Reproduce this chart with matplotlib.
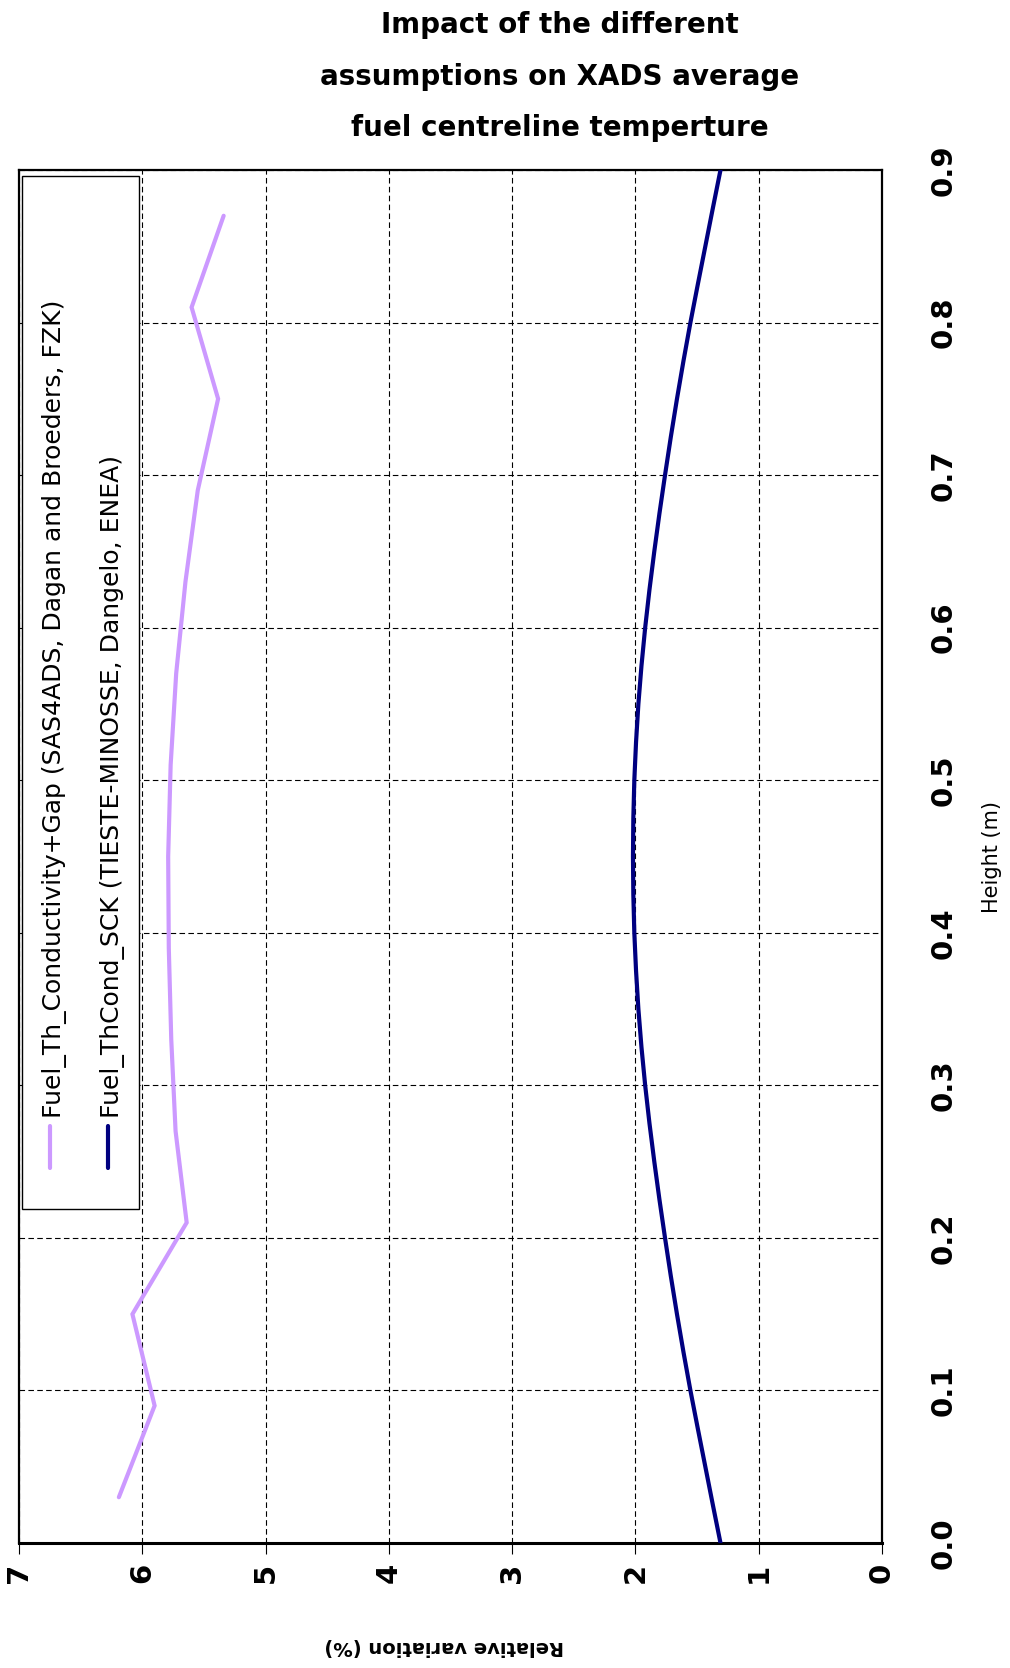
import matplotlib
matplotlib.use("Agg")
import matplotlib.pyplot as plt
from matplotlib.patches import Rectangle
from matplotlib.lines import Line2D

# ---- data ----
title_lines = ["Impact of the different",
               "assumptions on XADS average",
               "fuel centreline temperture"]
x_label = "Relative variation (%)"
y_label = "Height (m)"
x_ticks = [0, 1, 2, 3, 4, 5, 6, 7]
y_ticks = [0.0, 0.1, 0.2, 0.3, 0.4, 0.5, 0.6, 0.7, 0.8, 0.9]
y_tick_labels = ["0.0", "0.1", "0.2", "0.3", "0.4", "0.5", "0.6", "0.7", "0.8", "0.9"]

series_names = ["Fuel_Th_Conductivity+Gap (SAS4ADS, Dagan and Broeders, FZK)",
                "Fuel_ThCond_SCK (TIESTE-MINOSSE, Dangelo, ENEA)"]
series_colors = ["#CC99FF", "#000080"]

height_fzk = [0.03, 0.09, 0.15, 0.21, 0.27, 0.33, 0.39, 0.45, 0.51, 0.57,
              0.63, 0.69, 0.75, 0.81, 0.87]
var_fzk = [6.19, 5.90, 6.08, 5.64, 5.73, 5.765, 5.785, 5.79, 5.77, 5.725,
           5.65, 5.55, 5.385, 5.60, 5.34]

height_enea = [0.000, 0.025, 0.050, 0.075, 0.100, 0.125, 0.150, 0.175, 0.200,
               0.225, 0.250, 0.275, 0.300, 0.325, 0.350, 0.375, 0.400, 0.425,
               0.450, 0.475, 0.500, 0.525, 0.550, 0.575, 0.600, 0.625, 0.650,
               0.675, 0.700, 0.725, 0.750, 0.775, 0.800, 0.825, 0.850, 0.875, 0.900]
var_enea = [1.310, 1.372, 1.433, 1.494, 1.554, 1.610, 1.663, 1.713, 1.760,
            1.805, 1.847, 1.886, 1.921, 1.951, 1.976, 1.995, 2.009, 2.017,
            2.020, 2.017, 2.009, 1.995, 1.976, 1.951, 1.921, 1.886, 1.847,
            1.805, 1.760, 1.713, 1.663, 1.610, 1.554, 1.494, 1.433, 1.372, 1.310]

# ---- figure ----
W, H = 1010, 1668
fig = plt.figure(figsize=(W / 100, H / 100), dpi=100)
ax_l, ax_r, ax_t, ax_b = 19, 882, 170, 1543
ax = fig.add_axes([ax_l / W, 1 - ax_b / H, (ax_r - ax_l) / W, (ax_b - ax_t) / H])

ax.plot(var_fzk, height_fzk, color=series_colors[0], lw=3, zorder=3,
        solid_capstyle="round", solid_joinstyle="miter")
ax.plot(var_enea, height_enea, color=series_colors[1], lw=3, zorder=3,
        solid_joinstyle="round")

ax.set_xlim(7, 0)
ax.set_ylim(0, 0.9)
ax.set_xticks(x_ticks)
ax.set_xticklabels([str(t) for t in x_ticks])
ax.set_yticks(y_ticks)
ax.set_yticklabels(y_tick_labels)

ax.grid(True, color="black", lw=0.8, ls=(0, (5, 3)), zorder=1)
ax.set_axisbelow(True)

ax.yaxis.tick_right()
ax.yaxis.set_label_position("right")
ax.tick_params(axis="y", length=0, pad=34, labelrotation=90, labelsize=21)
ax.tick_params(axis="x", length=8, width=0.8, direction="out", pad=6,
               labelrotation=90, labelsize=21)
for lab in ax.get_xticklabels() + ax.get_yticklabels():
    lab.set_fontweight("bold")
for lab in ax.get_yticklabels():
    lab.set_horizontalalignment("left")
    lab.set_verticalalignment("center")

for s in ax.spines.values():
    s.set_linewidth(1.6)
ax.spines["bottom"].set_linewidth(2.2)

ax.set_xlabel(x_label, rotation=180, fontsize=14, fontweight="bold")
ax.xaxis.set_label_coords((444 - ax_l) / (ax_r - ax_l), (ax_b - 1647) / (ax_b - ax_t))
ax.xaxis.label.set_verticalalignment("center")
ax.set_ylabel(y_label, rotation=90, fontsize=15)
ax.yaxis.set_label_coords((992 - ax_l) / (ax_r - ax_l), (ax_b - 857) / (ax_b - ax_t))
ax.yaxis.label.set_verticalalignment("center")
ax.yaxis.label.set_horizontalalignment("center")

# ---- legend (rotated, drawn manually) ----
def fx(px):
    return (px - ax_l) / (ax_r - ax_l)

def fy(py):
    return (ax_b - py) / (ax_b - ax_t)

ax.add_patch(Rectangle((fx(21.5), fy(1209)), fx(139) - fx(21.5), fy(176) - fy(1209),
                       transform=ax.transAxes, facecolor="white", edgecolor="black",
                       lw=1.0, zorder=4))
for i, (name, col) in enumerate(zip(series_names, series_colors)):
    lx = [50, 108][i]
    ax.add_line(Line2D([fx(lx), fx(lx)], [fy(1168), fy(1126)], transform=ax.transAxes,
                       color=col, lw=3, solid_capstyle="round", zorder=5))
    ax.text(fx(lx + 5), fy(1118), name, transform=ax.transAxes, rotation=90,
            ha="center", va="bottom", fontsize=18, zorder=6)

# ---- title ----
for i, line in enumerate(title_lines):
    fig.text(560 / W, 1 - [25, 77, 128][i] / H, line, ha="center", va="center",
             fontsize=20, fontweight="bold")

fig.savefig("out.png", dpi=100)
